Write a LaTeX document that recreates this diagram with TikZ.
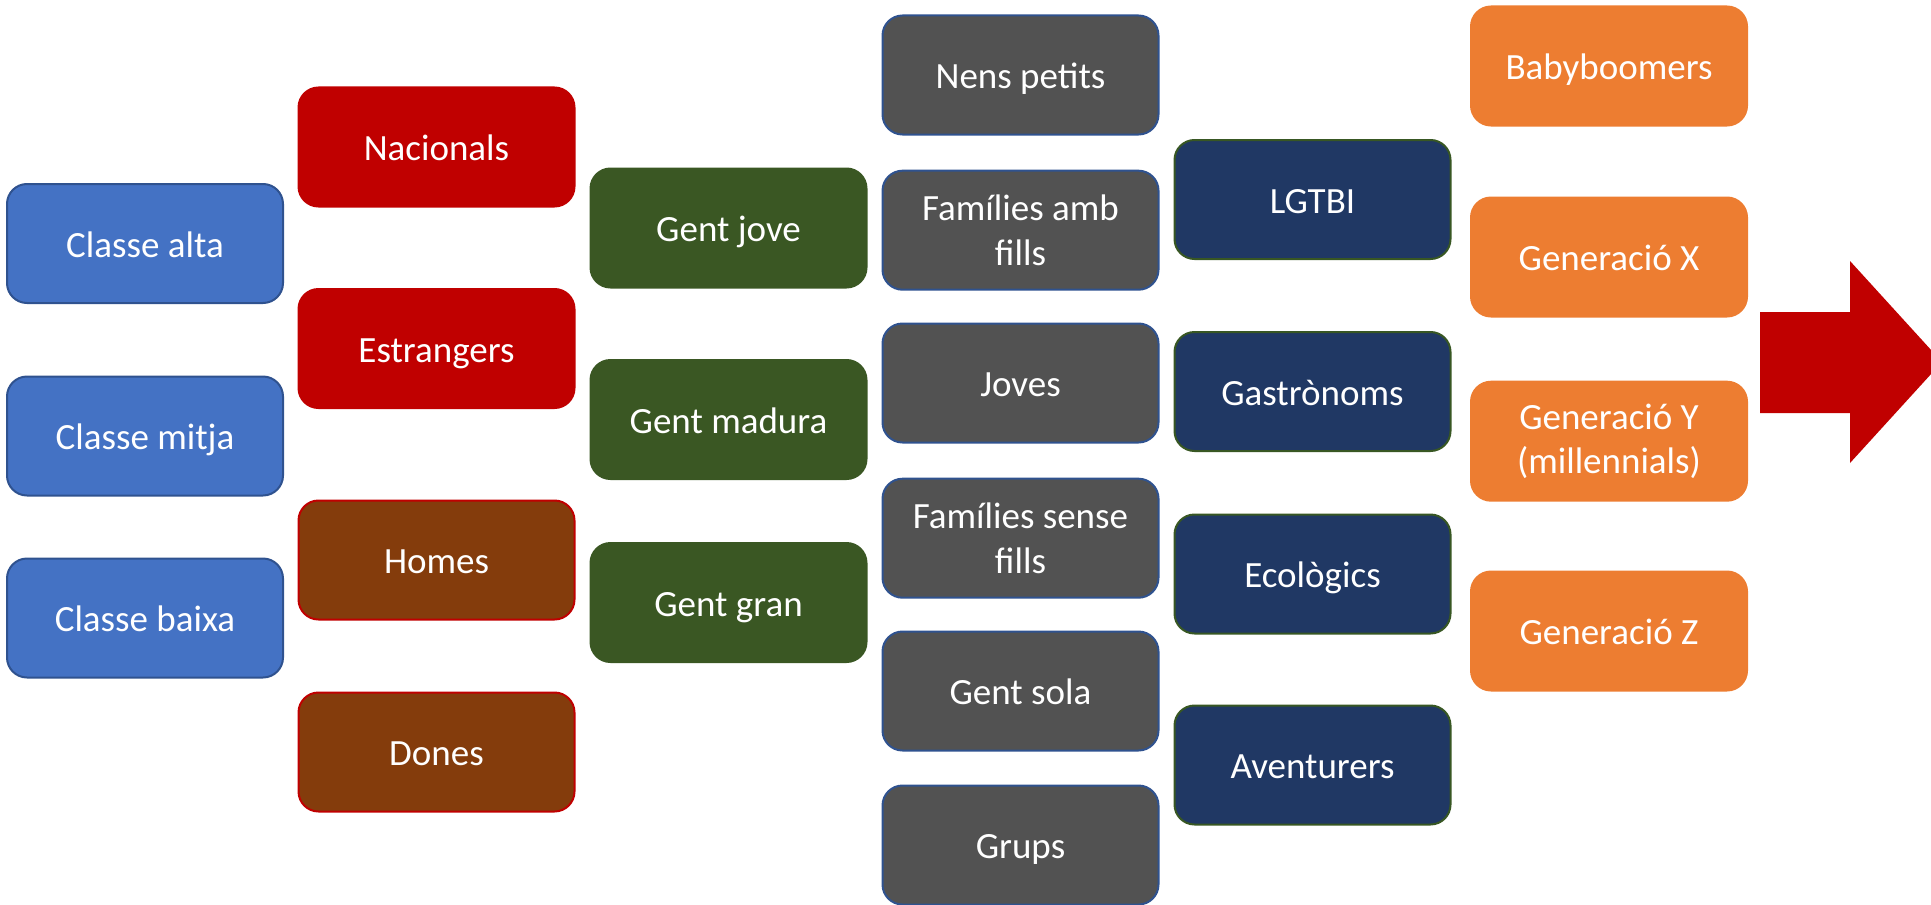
\documentclass[tikz,border=0pt]{standalone}
\usepackage{fontspec}
\setmainfont{Carlito}
\definecolor{cblue}{HTML}{4472C4}
\definecolor{cblueline}{HTML}{2F528F}
\definecolor{cred}{HTML}{C00000}
\definecolor{cbrown}{HTML}{843C0C}
\definecolor{cgreen}{HTML}{3A5723}
\definecolor{cgray}{HTML}{525252}
\definecolor{cnavy}{HTML}{203864}
\definecolor{cnavyline}{HTML}{385723}
\definecolor{corange}{HTML}{ED7D31}
\tikzset{
  box/.style={rectangle, rounded corners=10pt, minimum width=138pt, minimum height=59.5pt,
    line width=1pt, text=white, align=center, inner sep=0pt,
    font=\fontsize{18.5pt}{22.2pt}\selectfont,
    text height=13.5pt, text depth=0pt},
  twoline/.style={text height={}, text depth={}, yshift=-0.6pt},
  bluebox/.style={box, fill=cblue, draw=cblueline},
  redbox/.style={box, fill=cred, draw=cred},
  brownbox/.style={box, fill=cbrown, draw=cred},
  greenbox/.style={box, fill=cgreen, draw=cgreen},
  graybox/.style={box, fill=cgray, draw=cblueline},
  navybox/.style={box, fill=cnavy, draw=cnavyline},
  orangebox/.style={box, fill=corange, draw=corange},
}
\begin{document}
\begin{tikzpicture}[x=0.5pt, y=-0.5pt]
\useasboundingbox (0,0) rectangle (1931,904);
\clip (0,0) rectangle (1931,904);

% social class
\node[bluebox] (alta)  at (145,243.5) {Classe alta};
\node[bluebox] (mitja) at (145,436)   {Classe mitja};
\node[bluebox] (baixa) at (145,618)   {Classe baixa};

% origin and sex
\node[redbox]   (nac)   at (436.5,147)   {Nacionals};
\node[redbox]   (estr)  at (436.5,348.5) {Estrangers};
\node[brownbox] (homes) at (436.5,560)   {Homes};
\node[brownbox] (dones) at (436.5,752)   {Dones};

% age
\node[greenbox] (jove)   at (728.5,228)   {Gent jove};
\node[greenbox] (madura) at (728.5,419.5) {Gent madura};
\node[greenbox] (gran)   at (728.5,602.5) {Gent gran};

% household
\node[graybox] (nens)   at (1020.5,75)  {Nens petits};
\node[graybox, twoline] (famamb) at (1020.5,229) {Famílies amb\\fills};
\node[graybox] (joves)  at (1020.5,383) {Joves};
\node[graybox, twoline] (famsen) at (1020.5,537) {Famílies sense\\fills};
\node[graybox] (sola)   at (1020.5,691) {Gent sola};
\node[graybox] (grups)  at (1020.5,845) {Grups};

% interests
\node[navybox] (lgtbi) at (1312.5,199.5) {LGTBI};
\node[navybox] (gastr) at (1312.5,391.5) {Gastrònoms};
\node[navybox] (ecol)  at (1312.5,574)   {Ecològics};
\node[navybox] (avent) at (1312.5,765)   {Aventurers};

% generations
\node[orangebox] (baby) at (1609,66)  {Babyboomers};
\node[orangebox] (genx) at (1609,257) {Generació X};
\node[orangebox, twoline] (geny) at (1609,440) {Generació Y\\(millennials)};
\node[orangebox] (genz) at (1609,631) {Generació Z};

% block arrow
\fill[cred] (1760,312) -- (1850,312) -- (1850,261) -- (1942,362)
  -- (1850,463) -- (1850,413) -- (1760,413) -- cycle;
\end{tikzpicture}
\end{document}
